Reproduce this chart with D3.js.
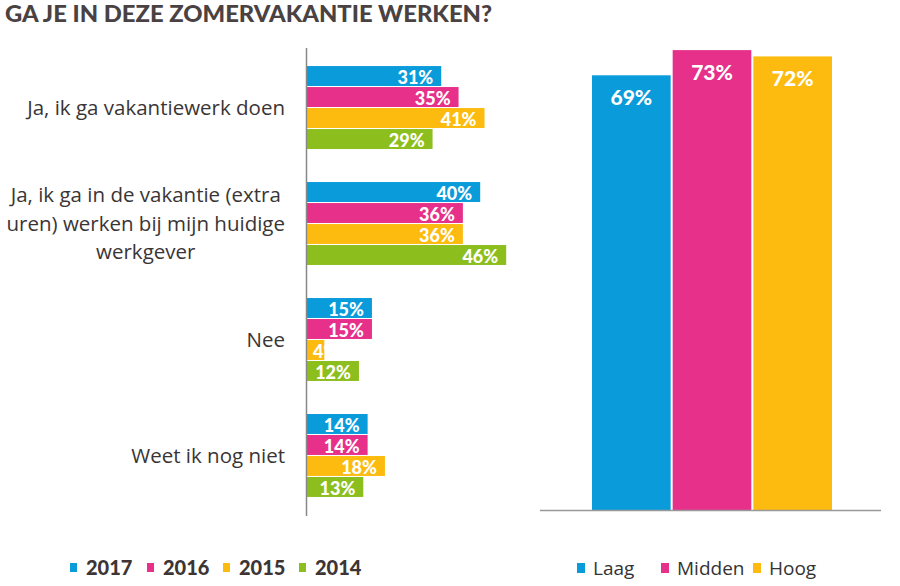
<!DOCTYPE html>
<html>
<head>
<meta charset="utf-8">
<script src="https://cdn.jsdelivr.net/npm/d3@7"></script>
<style>
  body { margin: 0; background: #fff; }
  svg { display: block; }
</style>
</head>
<body>
<svg id="chart" width="900" height="586"></svg>
<script>
// data
const categories = [
  ["Ja, ik ga vakantiewerk doen"],
  ["Ja, ik ga in de vakantie (extra", "uren) werken bij mijn huidige", "werkgever"],
  ["Nee"],
  ["Weet ik nog niet"]
];
const years = ["2017", "2016", "2015", "2014"];
const v2017 = [31, 40, 15, 14];
const v2016 = [35, 36, 15, 14];
const v2015 = [41, 36, 4, 18];
const v2014 = [29, 46, 12, 13];

const levels = ["Laag", "Midden", "Hoog"];
const levelValues = [69, 73, 72];

const yearColors = ["#0a9bdb", "#e6308a", "#fdbb10", "#8cbe1e"];
const levelColors = ["#0a9bdb", "#e6308a", "#fdbb10"];

const series = [v2017, v2016, v2015, v2014];
const svg = d3.select("#chart");

// title
svg.append("text")
  .attr("x", 5).attr("y", 22)
  .attr("font-family", "Lato").attr("font-weight", 900)
  .attr("font-size", 22).attr("fill", "#4a4242")
  .attr("textLength", 487).attr("lengthAdjust", "spacingAndGlyphs")
  .text("GA JE IN DEZE ZOMERVAKANTIE WERKEN?");

// ---- left: grouped horizontal bars ----
const catIdx = categories.map((d, i) => i);
const y0 = d3.scaleBand().domain(catIdx).range([49, 514])
  .paddingInner(0.285).paddingOuter(0.147);
const y1 = d3.scaleBand().domain(years).range([0, y0.bandwidth()]).paddingInner(0.05);
const x = d3.scaleLinear().domain([0, 100]).range([307, 740]);

const groups = svg.append("g").selectAll("g")
  .data(catIdx).join("g")
  .attr("transform", d => `translate(0,${y0(d)})`);

groups.selectAll("rect")
  .data(c => years.map((yr, j) => ({ yr, j, v: series[j][c] })))
  .join("rect")
  .attr("x", x(0))
  .attr("y", d => y1(d.yr))
  .attr("width", d => x(d.v) - x(0))
  .attr("height", y1.bandwidth())
  .attr("fill", d => yearColors[d.j]);

groups.selectAll("text.val")
  .data(c => years.map((yr, j) => ({ yr, j, v: series[j][c] })))
  .join("text")
  .attr("class", "val")
  .attr("x", d => d.v < 10 ? x(0) + 6 : x(d.v) - 8)
  .attr("text-anchor", d => d.v < 10 ? "start" : "end")
  .attr("y", d => y1(d.yr) + y1.bandwidth() / 2)
  .attr("dy", "0.42em")
  .attr("font-family", "Lato").attr("font-weight", 900)
  .attr("font-size", 18).attr("fill", "#fff")
  .text(d => d.v + "%");

// vertical axis line
svg.append("line")
  .attr("x1", x(0) - 0.5).attr("x2", x(0) - 0.5)
  .attr("y1", 48).attr("y2", 516)
  .attr("stroke", "#888").attr("stroke-width", 1.5);

// category labels: block right-aligned, lines centred
const lineH = 28.5;
catIdx.forEach(i => {
  const lines = categories[i];
  const cy = y0(i) + y0.bandwidth() / 2;
  const g = svg.append("g");
  const t = g.selectAll("text").data(lines).join("text")
    .attr("font-family", "Open Sans").attr("font-size", 20.5)
    .attr("fill", "#3a3535")
    .attr("text-anchor", "middle")
    .attr("y", (d, k) => cy + (k - (lines.length - 1) / 2) * lineH)
    .attr("dy", "0.35em")
    .text(d => d);
  const w = d3.max(t.nodes(), n => n.getComputedTextLength());
  t.attr("x", 285 - w / 2);
});

// ---- right: vertical bars ----
const xb = d3.scaleBand().domain(levels).range([592, 832]).paddingInner(0.025);
const yb = d3.scaleLinear().domain([0, 80]).range([510, 6]);

svg.append("g").selectAll("rect")
  .data(levels).join("rect")
  .attr("x", d => xb(d))
  .attr("y", (d, i) => yb(levelValues[i]))
  .attr("width", xb.bandwidth())
  .attr("height", (d, i) => yb(0) - yb(levelValues[i]))
  .attr("fill", (d, i) => levelColors[i]);

svg.append("g").selectAll("text")
  .data(levels).join("text")
  .attr("x", d => xb(d) + xb.bandwidth() / 2)
  .attr("y", (d, i) => yb(levelValues[i]) + 30)
  .attr("text-anchor", "middle")
  .attr("font-family", "Lato").attr("font-weight", 900)
  .attr("font-size", 21).attr("fill", "#fff")
  .text((d, i) => levelValues[i] + "%");

svg.append("line")
  .attr("x1", 540).attr("x2", 881)
  .attr("y1", yb(0) + 0.5).attr("y2", yb(0) + 0.5)
  .attr("stroke", "#999").attr("stroke-width", 1.5);

// ---- legends ----
const legY = 568;
const yearLegX = [70, 147, 223, 299];
const lg1 = svg.append("g").selectAll("g").data(years).join("g")
  .attr("transform", (d, i) => `translate(${yearLegX[i]},${legY})`);
lg1.append("rect").attr("x", 0).attr("y", -5).attr("width", 7).attr("height", 9)
  .attr("fill", (d, i) => yearColors[i]);
lg1.append("text").attr("x", 16).attr("dy", "0.36em")
  .attr("font-family", "Lato").attr("font-weight", 900)
  .attr("font-size", 20).attr("fill", "#3d3535")
  .text(d => d);

const levelLegX = [577, 661, 753];
const lg2 = svg.append("g").selectAll("g").data(levels).join("g")
  .attr("transform", (d, i) => `translate(${levelLegX[i]},${legY})`);
lg2.append("rect").attr("x", 0).attr("y", -5).attr("width", 8).attr("height", 10)
  .attr("fill", (d, i) => levelColors[i]);
lg2.append("text").attr("x", 16).attr("dy", "0.36em")
  .attr("font-family", "Open Sans").attr("font-size", 19).attr("fill", "#333")
  .text(d => d);
</script>
</body>
</html>
